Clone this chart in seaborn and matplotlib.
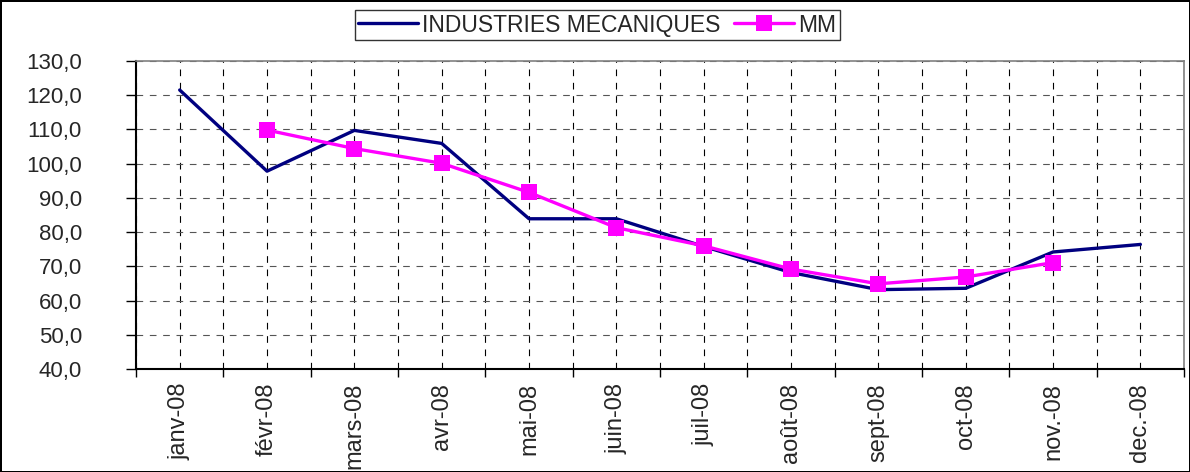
import numpy as np
import pandas as pd
import matplotlib.pyplot as plt
import seaborn as sns
from matplotlib.ticker import FixedLocator

# Data
months = ["janv-08", "févr-08", "mars-08", "avr-08", "mai-08", "juin-08",
          "juil-08", "août-08", "sept-08", "oct-08", "nov.-08", "dec.-08"]
industries = [121.5, 97.8, 109.7, 105.9, 83.9, 83.9, 75.8, 68.2, 63.2, 63.6, 74.2, 76.4]
mm = [np.nan, 109.8, 104.4, 100.1, 91.6, 81.3, 76.0, 69.2, 64.9, 66.9, 71.1, np.nan]

df = pd.DataFrame({"x": range(len(months)),
                   "INDUSTRIES MECANIQUES": industries,
                   "MM": mm})

sns.set_style("white")
plt.rcParams["font.family"] = ["Liberation Sans", "DejaVu Sans"]

fig = plt.figure(figsize=(11.9, 4.72), dpi=100)
fig.patch.set_edgecolor("black")
fig.patch.set_linewidth(2)
ax = fig.add_axes([0.1143, 0.218, 0.8807, 0.653])

sns.lineplot(data=df, x="x", y="INDUSTRIES MECANIQUES", ax=ax, color="#000080",
             linewidth=2.4, label="INDUSTRIES MECANIQUES")
sns.lineplot(data=df.dropna(), x="x", y="MM", ax=ax, color="#FF00FF",
             linewidth=2.4, marker="s", markersize=12, markeredgewidth=0,
             label="MM")

ax.set_xlim(-0.5, len(months) - 0.5)
ax.set_ylim(40, 130)
ax.set_yticks(np.arange(40, 131, 10))
ax.set_yticklabels([f"{v:.1f}".replace(".", ",") for v in np.arange(40, 131, 10)],
                   fontsize=16)
ax.set_xticks(range(len(months)))
ax.set_xticklabels(months, rotation=90, fontsize=17)
ax.xaxis.set_minor_locator(FixedLocator(np.arange(-0.5, len(months), 1)))
ax.tick_params(axis="x", which="major", length=0, pad=10)
ax.tick_params(axis="x", which="minor", length=6, width=1, color="black", direction="out")
ax.tick_params(axis="y", length=7, width=1, color="black", direction="out", pad=32)
ax.tick_params(bottom=True, left=True, which="both")
ax.set_xlabel("")
ax.set_ylabel("")

ax.grid(True, which="both", axis="x", linestyle=(0, (6, 6)), color="black", linewidth=0.8)
ax.grid(True, which="major", axis="y", linestyle=(0, (6, 6)), color="#555555", linewidth=0.8)
ax.set_axisbelow(True)

for side in ["left", "bottom"]:
    ax.spines[side].set_color("black")
    ax.spines[side].set_linewidth(1.5)
for side in ["top", "right"]:
    ax.spines[side].set_color("#808080")
    ax.spines[side].set_linewidth(1.2)

leg = ax.legend(loc="center", bbox_to_anchor=(0.502, 0.947),
                bbox_transform=fig.transFigure, ncol=2, fontsize=16.5,
                frameon=True, fancybox=False, edgecolor="black",
                handlelength=2.6, columnspacing=0.6, handletextpad=0.2,
                borderpad=0.15, borderaxespad=0)
leg.get_frame().set_linewidth(1)

fig.savefig("out.png", dpi=100, edgecolor=fig.get_edgecolor())
